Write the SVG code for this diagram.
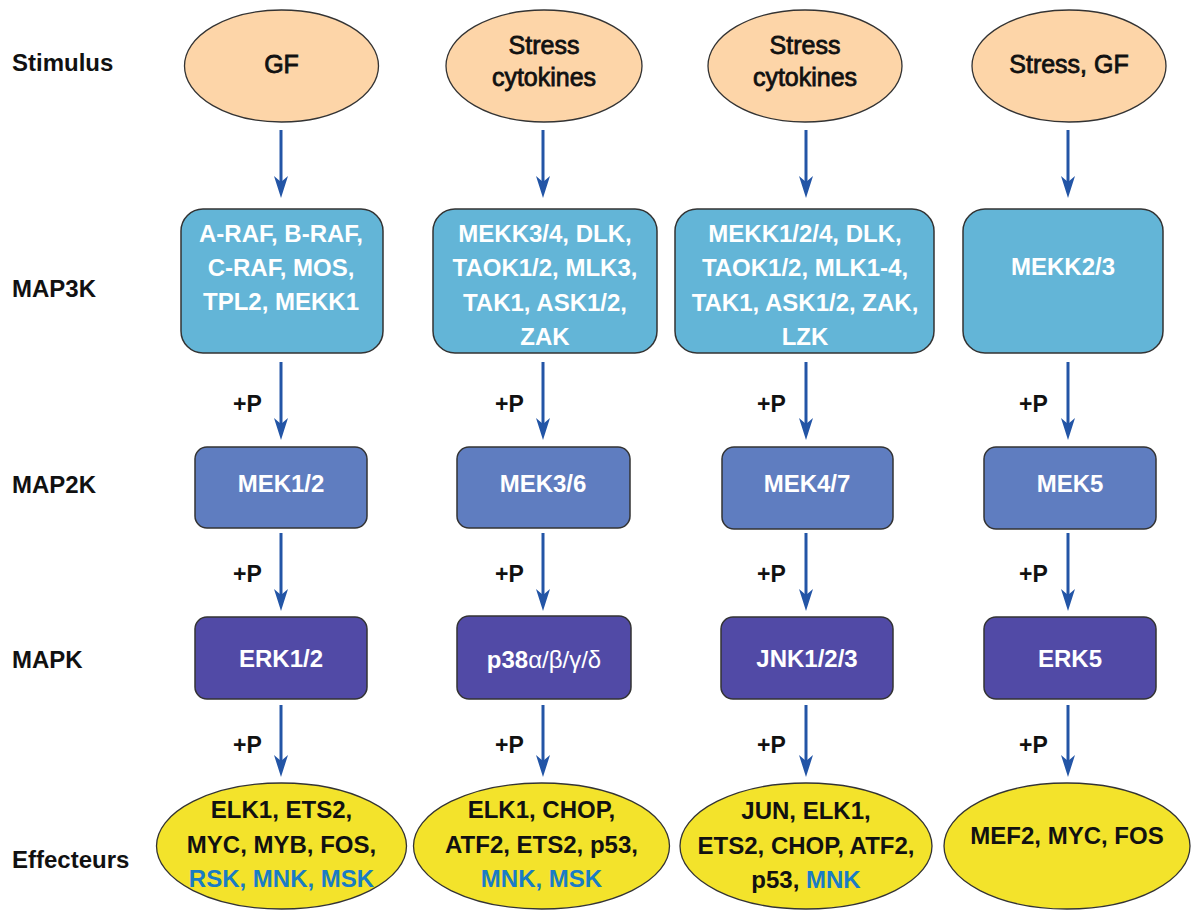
<svg xmlns="http://www.w3.org/2000/svg" width="1192" height="912" viewBox="0 0 1192 912">
<style>
text{font-family:"Liberation Sans",Arial,sans-serif;}
.lbl{font-size:24px;font-weight:bold;fill:#111;}
.stim{fill:#fdd5a8;stroke:#333;stroke-width:1.3;}
.stt{font-size:25px;fill:#111;text-anchor:middle;stroke:#111;stroke-width:0.8;}
.m3{fill:#63b5d7;stroke:#333;stroke-width:1.5;}
.m2{fill:#5f7dc0;stroke:#333;stroke-width:1.5;}
.m1{fill:#514aa6;stroke:#333;stroke-width:1.5;}
.wt{font-size:24px;font-weight:bold;fill:#fff;text-anchor:middle;}
.eff{fill:#f3e32b;stroke:#333;stroke-width:1.3;}
.et{font-size:24px;font-weight:bold;fill:#111;text-anchor:middle;}
.bl{fill:#1a7cc4;}
.p{font-size:23px;font-weight:bold;fill:#111;}
.arr{stroke:#2355a6;stroke-width:3;fill:none;marker-end:url(#ah);}
</style>
<defs>
<marker id="ah" viewBox="0 0 22 14" refX="12" refY="7" markerWidth="22" markerHeight="14" markerUnits="userSpaceOnUse" orient="auto">
<path d="M0,0 L22,7 L0,14 L6,7 z" fill="#2355a6"/>
</marker>
</defs>
<rect width="1192" height="912" fill="#fff"/>

<g id="row-labels">
<text class="lbl" x="12" y="71">Stimulus</text>
<text class="lbl" x="12" y="297">MAP3K</text>
<text class="lbl" x="12" y="493">MAP2K</text>
<text class="lbl" x="12" y="668">MAPK</text>
<text class="lbl" x="12" y="868">Effecteurs</text>
</g>

<g id="connectors">
<line class="arr" x1="281" y1="130" x2="281" y2="188"/>
<line class="arr" x1="281" y1="362" x2="281" y2="430"/>
<line class="arr" x1="281" y1="533" x2="281" y2="601"/>
<line class="arr" x1="281" y1="705" x2="281" y2="767"/>
<line class="arr" x1="543" y1="130" x2="543" y2="188"/>
<line class="arr" x1="543" y1="362" x2="543" y2="430"/>
<line class="arr" x1="543" y1="533" x2="543" y2="601"/>
<line class="arr" x1="543" y1="705" x2="543" y2="767"/>
<line class="arr" x1="806" y1="130" x2="806" y2="188"/>
<line class="arr" x1="806" y1="362" x2="806" y2="430"/>
<line class="arr" x1="806" y1="533" x2="806" y2="601"/>
<line class="arr" x1="806" y1="705" x2="806" y2="767"/>
<line class="arr" x1="1068" y1="130" x2="1068" y2="188"/>
<line class="arr" x1="1068" y1="362" x2="1068" y2="430"/>
<line class="arr" x1="1068" y1="533" x2="1068" y2="601"/>
<line class="arr" x1="1068" y1="705" x2="1068" y2="767"/>
<text class="p" x="233" y="412">+P</text>
<text class="p" x="233" y="582">+P</text>
<text class="p" x="233" y="753">+P</text>
<text class="p" x="495" y="412">+P</text>
<text class="p" x="495" y="582">+P</text>
<text class="p" x="495" y="753">+P</text>
<text class="p" x="757" y="412">+P</text>
<text class="p" x="757" y="582">+P</text>
<text class="p" x="757" y="753">+P</text>
<text class="p" x="1019" y="412">+P</text>
<text class="p" x="1019" y="582">+P</text>
<text class="p" x="1019" y="753">+P</text>
</g>

<g id="stim-gf">
<ellipse class="stim" cx="281.5" cy="66" rx="97" ry="56"/>
<text class="stt" x="281.5" y="73">GF</text>
</g>
<g id="stim-stress1">
<ellipse class="stim" cx="544" cy="66" rx="98" ry="56"/>
<text class="stt" x="544" y="54">Stress</text>
<text class="stt" x="544" y="86">cytokines</text>
</g>
<g id="stim-stress2">
<ellipse class="stim" cx="805" cy="66" rx="97" ry="56"/>
<text class="stt" x="805" y="54">Stress</text>
<text class="stt" x="805" y="86">cytokines</text>
</g>
<g id="stim-stressgf">
<ellipse class="stim" cx="1069" cy="66" rx="97" ry="56"/>
<text class="stt" x="1069" y="73">Stress, GF</text>
</g>

<g id="map3k-1">
<rect class="m3" x="181" y="209" width="202" height="144" rx="22"/>
<text class="wt" x="281" y="242">A-RAF, B-RAF,</text>
<text class="wt" x="281" y="276">C-RAF, MOS,</text>
<text class="wt" x="281" y="310">TPL2, MEKK1</text>
</g>
<g id="map3k-2">
<rect class="m3" x="433" y="209" width="224" height="144" rx="22"/>
<text class="wt" x="545" y="242">MEKK3/4, DLK,</text>
<text class="wt" x="545" y="276">TAOK1/2, MLK3,</text>
<text class="wt" x="545" y="311">TAK1, ASK1/2,</text>
<text class="wt" x="545" y="345">ZAK</text>
</g>
<g id="map3k-3">
<rect class="m3" x="675" y="209" width="259" height="144" rx="22"/>
<text class="wt" x="805" y="242">MEKK1/2/4, DLK,</text>
<text class="wt" x="805" y="276">TAOK1/2, MLK1-4,</text>
<text class="wt" x="805" y="311">TAK1, ASK1/2, ZAK,</text>
<text class="wt" x="805" y="345">LZK</text>
</g>
<g id="map3k-4">
<rect class="m3" x="963" y="209" width="200" height="144" rx="22"/>
<text class="wt" x="1063" y="275">MEKK2/3</text>
</g>

<g id="map2k-1">
<rect class="m2" x="195" y="447" width="172" height="81" rx="12"/>
<text class="wt" x="281" y="492">MEK1/2</text>
</g>
<g id="map2k-2">
<rect class="m2" x="457" y="447" width="173" height="81" rx="12"/>
<text class="wt" x="543" y="492">MEK3/6</text>
</g>
<g id="map2k-3">
<rect class="m2" x="722" y="447" width="171" height="82" rx="12"/>
<text class="wt" x="807" y="492">MEK4/7</text>
</g>
<g id="map2k-4">
<rect class="m2" x="984" y="447" width="172" height="82" rx="12"/>
<text class="wt" x="1070" y="492">MEK5</text>
</g>

<g id="mapk-1">
<rect class="m1" x="195" y="617" width="172" height="82" rx="12"/>
<text class="wt" x="281" y="667">ERK1/2</text>
</g>
<g id="mapk-2">
<rect class="m1" x="457" y="616" width="174" height="83" rx="12"/>
<text class="wt" x="544" y="668">p38<tspan font-weight="normal">α/β/γ/δ</tspan></text>
</g>
<g id="mapk-3">
<rect class="m1" x="721" y="617" width="172" height="82" rx="12"/>
<text class="wt" x="807" y="667">JNK1/2/3</text>
</g>
<g id="mapk-4">
<rect class="m1" x="984" y="617" width="172" height="82" rx="12"/>
<text class="wt" x="1070" y="667">ERK5</text>
</g>

<g id="eff-1">
<ellipse class="eff" cx="281.5" cy="846" rx="125" ry="63"/>
<text class="et" x="281.5" y="818">ELK1, ETS2,</text>
<text class="et" x="281.5" y="853">MYC, MYB, FOS,</text>
<text class="et bl" x="281.5" y="887">RSK, MNK, MSK</text>
</g>
<g id="eff-2">
<ellipse class="eff" cx="541.5" cy="846" rx="128" ry="63"/>
<text class="et" x="541.5" y="818">ELK1, CHOP,</text>
<text class="et" x="541.5" y="853">ATF2, ETS2, p53,</text>
<text class="et bl" x="541.5" y="887">MNK, MSK</text>
</g>
<g id="eff-3">
<ellipse class="eff" cx="806" cy="846" rx="126" ry="63"/>
<text class="et" x="806" y="819">JUN, ELK1,</text>
<text class="et" x="806" y="854">ETS2, CHOP, ATF2,</text>
<text class="et" x="806" y="888">p53, <tspan class="bl">MNK</tspan></text>
</g>
<g id="eff-4">
<ellipse class="eff" cx="1067" cy="846" rx="123" ry="63"/>
<text class="et" x="1067" y="844">MEF2, MYC, FOS</text>
</g>
</svg>
